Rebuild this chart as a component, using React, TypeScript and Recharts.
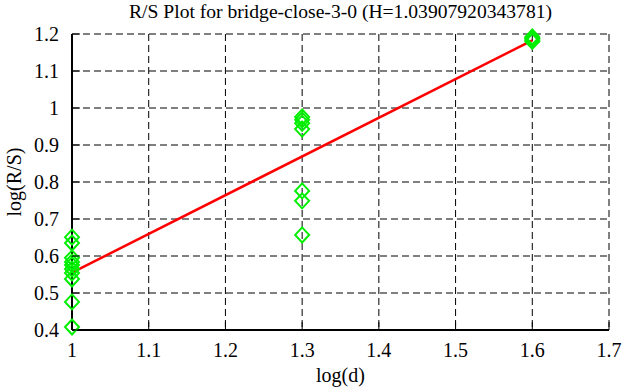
import React from 'react';
import {
  ComposedChart,
  Scatter,
  Line,
  XAxis,
  YAxis,
  CartesianGrid,
} from 'recharts';

// log(d) groups and the log(R/S) values read at each one
const logD = [1, 1.3, 1.6];
const rsAt1 = [0.651, 0.635, 0.595, 0.584, 0.576, 0.565, 0.554, 0.538, 0.476, 0.408];
const rsAt13 = [0.976, 0.968, 0.959, 0.943, 0.776, 0.749, 0.657];
const rsAt16 = [1.192, 1.188, 1.184, 1.18];

// fitted line end points
const fitX = [1, 1.6];
const fitY = [0.555, 1.183];

const xTicks = [1, 1.1, 1.2, 1.3, 1.4, 1.5, 1.6, 1.7];
const yTicks = [0.4, 0.5, 0.6, 0.7, 0.8, 0.9, 1, 1.1, 1.2];

const points = [rsAt1, rsAt13, rsAt16].flatMap((ys, i) =>
  ys.map((y) => ({ x: logD[i], y }))
);
const fitData = fitX.map((x, i) => ({ x, y: fitY[i] }));

const FONT = "'Liberation Serif', 'Times New Roman', Times, serif";
const TICK_LEN = 8;

const fmt = (v: number) => String(Math.round(v * 10) / 10);

// ticks point inward, like the old gnuplot box
const BottomTick = ({ x, y, payload }: any) => (
  <g>
    <line x1={x} y1={y} x2={x} y2={y - TICK_LEN} stroke="#000" strokeWidth={1} />
    <text x={x} y={y + 27} textAnchor="middle" fontSize={20} fontFamily={FONT} fill="#000">
      {fmt(payload.value)}
    </text>
  </g>
);

const LeftTick = ({ x, y, payload }: any) => (
  <g>
    <line x1={x} y1={y} x2={x + TICK_LEN} y2={y} stroke="#000" strokeWidth={1} />
    <text x={x - 13} y={y + 7} textAnchor="end" fontSize={20} fontFamily={FONT} fill="#000">
      {fmt(payload.value)}
    </text>
  </g>
);

const TopTick = ({ x, y }: any) => (
  <line x1={x} y1={y} x2={x} y2={y + TICK_LEN} stroke="#000" strokeWidth={1} />
);

const RightTick = ({ x, y }: any) => (
  <line x1={x} y1={y} x2={x - TICK_LEN} y2={y} stroke="#000" strokeWidth={1} />
);

const Diamond = ({ cx, cy }: any) => {
  const w = 7;
  const h = 7.5;
  return (
    <polygon
      points={`${cx},${cy - h} ${cx + w},${cy} ${cx},${cy + h} ${cx - w},${cy}`}
      fill="none"
      stroke="#00ee00"
      strokeWidth={2}
    />
  );
};

export default function App() {
  return (
    <div
      style={{
        position: 'absolute',
        left: 0,
        top: 0,
        width: 626,
        height: 387,
        background: '#fff',
        fontFamily: FONT,
      }}
    >
      <div
        style={{
          position: 'absolute',
          left: 72,
          width: 537,
          top: 1,
          textAlign: 'center',
          fontSize: 19.6,
          lineHeight: '22px',
          color: '#000',
        }}
      >
        R/S Plot for bridge-close-3-0 (H=1.03907920343781)
      </div>
      <div
        style={{
          position: 'absolute',
          left: 14,
          top: 182,
          transform: 'translate(-50%, -50%) rotate(-90deg)',
          fontSize: 20,
          lineHeight: '22px',
          whiteSpace: 'nowrap',
          color: '#000',
        }}
      >
        log(R/S)
      </div>
      <div
        style={{
          position: 'absolute',
          left: 72,
          width: 537,
          top: 364,
          textAlign: 'center',
          fontSize: 20,
          lineHeight: '22px',
          color: '#000',
        }}
      >
        log(d)
      </div>
      <ComposedChart
        width={626}
        height={387}
        margin={{ top: 34, right: 17, bottom: 27, left: 32 }}
        style={{ position: 'absolute', left: 0, top: 0 }}
      >
        <CartesianGrid
          stroke="#000"
          strokeDasharray="7 4"
          strokeWidth={1}
          horizontalValues={yTicks}
          verticalValues={xTicks}
        />
        <XAxis
          dataKey="x"
          type="number"
          domain={[1, 1.7]}
          ticks={xTicks}
          height={30}
          tickSize={0}
          tickMargin={0}
          tick={<BottomTick />}
          tickLine={false}
          axisLine={{ stroke: '#000', strokeWidth: 2 }}
          interval={0}
        />
        <XAxis
          xAxisId="top"
          orientation="top"
          type="number"
          domain={[1, 1.7]}
          ticks={xTicks}
          height={0}
          tickSize={0}
          tickMargin={0}
          tick={<TopTick />}
          tickLine={false}
          axisLine={{ stroke: '#000', strokeWidth: 2 }}
          interval={0}
        />
        <YAxis
          dataKey="y"
          type="number"
          domain={[0.4, 1.2]}
          ticks={yTicks}
          width={40}
          tickSize={0}
          tickMargin={0}
          tick={<LeftTick />}
          tickLine={false}
          axisLine={{ stroke: '#000', strokeWidth: 2 }}
          interval={0}
        />
        <YAxis
          yAxisId="right"
          orientation="right"
          type="number"
          domain={[0.4, 1.2]}
          ticks={yTicks}
          width={0}
          tickSize={0}
          tickMargin={0}
          tick={<RightTick />}
          tickLine={false}
          axisLine={{ stroke: '#000', strokeWidth: 2 }}
          interval={0}
        />
        <Scatter data={points} dataKey="y" shape={<Diamond />} isAnimationActive={false} />
        <Line
          data={fitData}
          dataKey="y"
          type="linear"
          stroke="#ff0000"
          strokeWidth={2.5}
          dot={false}
          activeDot={false}
          isAnimationActive={false}
        />
      </ComposedChart>
    </div>
  );
}
